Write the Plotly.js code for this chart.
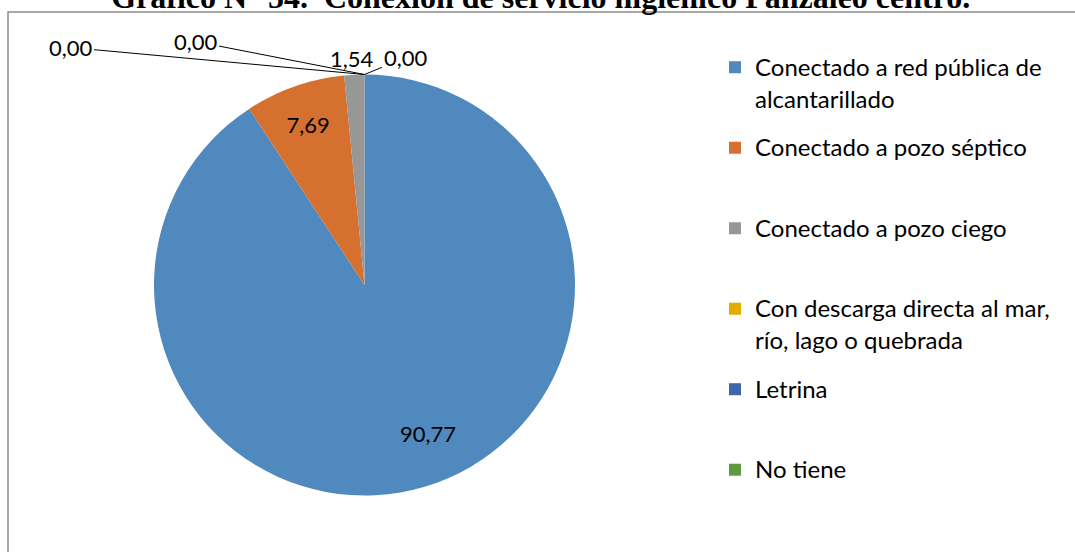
<!DOCTYPE html>
<html>
<head>
<meta charset="utf-8">
<script src="https://cdn.plot.ly/plotly-3.0.1.min.js"></script>
<style>
html,body{margin:0;padding:0;background:#fff;}
#chart{width:1075px;height:552px;}
</style>
</head>
<body>
<div id="chart"></div>
<script>
// ---- data ----
var chartTitle = "Gráfico N° 54.\u00a0\u00a0Conexión de servicio higiénico Panzaleo centro.";
var categories = [
  "Conectado a red pública de alcantarillado",
  "Conectado a pozo séptico",
  "Conectado a pozo ciego",
  "Con descarga directa al mar, río, lago o quebrada",
  "Letrina",
  "No tiene"
];
var values = [90.77, 7.69, 1.54, 0.00, 0.00, 0.00];
var colors = ["#4F89BE", "#D5702E", "#979797", "#E5AC00", "#3E65AD", "#5F9A3F"];

// ---- presentation helpers ----
// Legend entries are laid out on a fine grid of small lines so that the
// entry pitch and the spacing between wrapped lines match the reference.
var GRID_LINES = 12, FIRST_LINE = 1, SECOND_LINE = 6;
function wrap(s, maxLen) {
  var words = s.split(" "), lines = [], cur = "";
  words.forEach(function (w) {
    if (cur && (cur + " " + w).length > maxLen) { lines.push(cur); cur = w; }
    else { cur = cur ? cur + " " + w : w; }
  });
  if (cur) lines.push(cur);
  var grid = [];
  for (var g = 0; g < GRID_LINES; g++) grid.push("\u00a0");
  var slots = [FIRST_LINE, SECOND_LINE];
  lines.forEach(function (l, j) {
    grid[slots[j]] = '<span style="font-size:24px">' + l + '</span>';
  });
  return grid.join("<br>");
}
var legendLabels = categories.map(function (c) { return wrap(c, 28); });
function fmt(v) { return v.toFixed(2).replace(".", ","); }

// label placement (layout, in pixels of the 1075x552 figure)
var labelPx = { 0: [428, 433], 2: [352, 58] };
var textPos = values.map(function (v, i) {
  if (v === 0 || labelPx[i]) return "none";
  return "inside";
});

// pie geometry (layout)
var W = 1075, H = 552;
var domX = [154 / W, 575 / W];
var domY = [56.5 / H, 477.5 / H];
var topX = (domX[0] + domX[1]) / 2;
var topY = domY[1];
var labelFont = { family: "Lato, sans-serif", size: 22, color: "#000" };

var trace = {
  type: "pie",
  labels: legendLabels,
  values: values,
  sort: false,
  direction: "clockwise",
  rotation: 0,
  marker: { colors: colors, line: { width: 0 } },
  texttemplate: "%{value:.2f}",
  textposition: textPos,
  insidetextorientation: "horizontal",
  textfont: labelFont,
  domain: { x: domX, y: domY },
  hoverinfo: "value",
  showlegend: true
};

var annotations = [];
// placed value labels
Object.keys(labelPx).forEach(function (k) {
  var i = +k;
  annotations.push({
    xref: "paper", yref: "paper",
    x: labelPx[i][0] / W, y: 1 - labelPx[i][1] / H,
    xanchor: "center", yanchor: "middle",
    text: fmt(values[i]), showarrow: false, font: labelFont
  });
});
// zero-value labels with leader lines
var zeroIdx = [];
values.forEach(function (v, i) { if (v === 0) zeroIdx.push(i); });
var zeroOffsets = [[-294, -27], [-169, -33], [41, -17]];
zeroIdx.forEach(function (idx, k) {
  annotations.push({
    xref: "paper", yref: "paper",
    x: topX, y: topY,
    ax: zeroOffsets[k][0], ay: zeroOffsets[k][1],
    text: fmt(values[idx]),
    showarrow: true, arrowhead: 0, arrowwidth: 1, arrowcolor: "#000",
    standoff: 0,
    font: labelFont
  });
});

var legendFontSize = (80.5 - 3) / (GRID_LINES * 1.3);

var layout = {
  width: W, height: H,
  margin: { l: 0, r: 0, t: 0, b: 0 },
  paper_bgcolor: "#fff",
  separators: ",.",
  title: {
    text: "<b>" + chartTitle + "</b>",
    font: { family: "Liberation Serif, Times New Roman, serif", size: 32, color: "#000" },
    xref: "container", yref: "container",
    x: 0.503, xanchor: "center",
    y: 1 - 8 / H, yanchor: "bottom",
    pad: { t: 0, b: 0, l: 0, r: 0 }
  },
  legend: {
    x: 715 / W, xanchor: "left",
    y: 1 - 57.5 / H, yanchor: "top",
    valign: "top",
    font: { family: "Lato, sans-serif", size: legendFontSize, color: "#000" },
    bgcolor: "rgba(0,0,0,0)",
    traceorder: "normal"
  },
  shapes: [{
    type: "rect", xref: "paper", yref: "paper",
    x0: 8 / W, x1: 1.02, y0: -0.02, y1: 1 - 12 / H,
    line: { color: "#8C8C8C", width: 1.5 }, fillcolor: "rgba(0,0,0,0)"
  }],
  annotations: annotations
};

Plotly.newPlot("chart", [trace], layout, { displayModeBar: false, staticPlot: true });
</script>
</body>
</html>
